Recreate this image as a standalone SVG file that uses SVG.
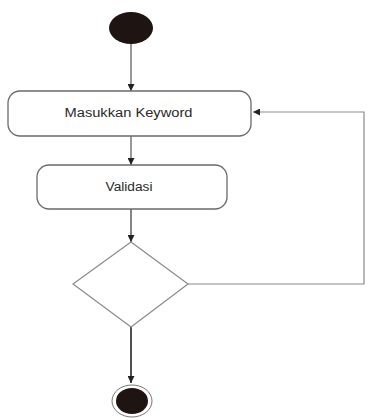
<svg xmlns="http://www.w3.org/2000/svg" width="369" height="418" viewBox="0 0 369 418">
  <style>
    .action { fill: #ffffff; stroke: #6a6a6a; stroke-width: 1.3; }
    .label { font-family: "Liberation Sans", Arial, sans-serif; font-size: 12px; fill: #2a2a2a; text-anchor: middle; }
    .flow { fill: none; stroke: #555555; stroke-width: 1.2; }
    .decision { fill: #ffffff; stroke: #8a8a8a; stroke-width: 1.2; }
  </style>
  <defs>
    <marker id="arrow" viewBox="0 0 10 10" refX="10" refY="5" markerWidth="7" markerHeight="7" orient="auto" markerUnits="userSpaceOnUse">
      <path d="M0,0 L10,5 L0,10 z" fill="#222222"/>
    </marker>
  </defs>
  <rect width="369" height="418" fill="#ffffff"/>

  <g id="connectors">
    <line class="flow" x1="131" y1="44" x2="131" y2="91" marker-end="url(#arrow)"/>
    <line class="flow" x1="131" y1="136" x2="131" y2="165" marker-end="url(#arrow)"/>
    <line class="flow" x1="131" y1="209" x2="131" y2="242" marker-end="url(#arrow)" style="stroke:#333333"/>
    <polyline class="flow" points="188,284 364,284 364,112 253,112" marker-end="url(#arrow)" style="stroke:#8a8a8a"/>
    <line class="flow" x1="131" y1="327" x2="131" y2="383" marker-end="url(#arrow)" style="stroke:#222222;stroke-width:1.6"/>
  </g>

  <g id="start">
    <ellipse cx="131" cy="28" rx="22" ry="16" fill="#1e1412"/>
  </g>

  <g id="masukkan-keyword">
    <rect class="action" x="8" y="91" width="243" height="45" rx="12" ry="12"/>
    <text class="label" x="128.5" y="117" textLength="128" lengthAdjust="spacingAndGlyphs">Masukkan Keyword</text>
  </g>

  <g id="validasi">
    <rect class="action" x="37" y="165" width="190" height="44" rx="12" ry="12"/>
    <text class="label" x="129" y="191" textLength="47" lengthAdjust="spacingAndGlyphs">Validasi</text>
  </g>

  <g id="decision">
    <polygon class="decision" points="131,242 188,284 131,327 73,284"/>
  </g>

  <g id="end">
    <ellipse cx="132" cy="401" rx="20" ry="16" fill="#ffffff" stroke="#777777" stroke-width="1"/>
    <ellipse cx="132" cy="401" rx="16" ry="13" fill="#1e1412"/>
  </g>
</svg>
